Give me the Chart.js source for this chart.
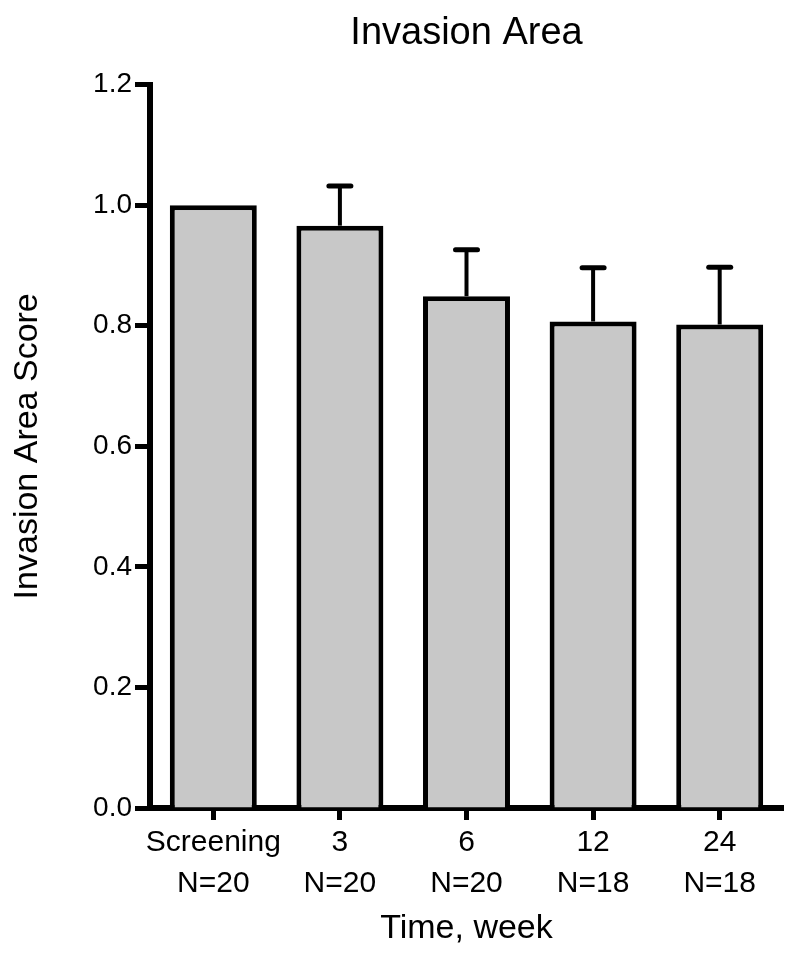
<!DOCTYPE html>
<html>
<head>
<meta charset="utf-8">
<script src="https://cdn.jsdelivr.net/npm/chart.js@4"></script>
<style>
  html, body { margin: 0; padding: 0; background: #fff; }
</style>
</head>
<body>
<canvas id="invChart" width="795" height="963"></canvas>
<script>
const weeks = ["Screening", "3", "6", "12", "24"];
const counts = ["N=20", "N=20", "N=20", "N=18", "N=18"];
const scores = [1.0, 0.966, 0.849, 0.807, 0.802];
const sem = [0, 0.066, 0.077, 0.089, 0.095];
const yTicks = [0, 0.2, 0.4, 0.6, 0.8, 1.0, 1.2];

const FONT = "'Liberation Sans', Arial, Helvetica, sans-serif";

// draws the upper error bar (SEM) on top of each bar
const errorBars = {
  id: "errorBars",
  afterDatasetsDraw(chart) {
    const ctx = chart.ctx;
    const y = chart.scales.y;
    const meta = chart.getDatasetMeta(0);
    ctx.save();
    ctx.strokeStyle = "#000";
    meta.data.forEach((bar, i) => {
      if (!sem[i]) return;
      const yTop = y.getPixelForValue(scores[i] + sem[i]);
      const yBar = y.getPixelForValue(scores[i]);
      ctx.lineWidth = 4;
      ctx.lineCap = "butt";
      ctx.beginPath();
      ctx.moveTo(bar.x, yBar);
      ctx.lineTo(bar.x, yTop);
      ctx.stroke();
      ctx.lineWidth = 5;
      ctx.lineCap = "round";
      ctx.beginPath();
      ctx.moveTo(bar.x - 11, yTop);
      ctx.lineTo(bar.x + 11, yTop);
      ctx.stroke();
    });
    ctx.restore();
  }
};

const ctx = document.getElementById("invChart").getContext("2d");
new Chart(ctx, {
  type: "bar",
  data: {
    labels: weeks.map((w, i) => [w, counts[i]]),
    datasets: [{
      data: scores,
      backgroundColor: "#c8c8c8",
      borderColor: "#000",
      borderWidth: 5,
      borderSkipped: "bottom",
      barPercentage: 0.687,
      categoryPercentage: 1.0
    }]
  },
  options: {
    responsive: false,
    animation: false,
    devicePixelRatio: 1,
    layout: { padding: { top: 0, right: 12, left: 0, bottom: 0 } },
    plugins: {
      legend: { display: false },
      tooltip: { enabled: false },
      title: {
        display: true,
        text: "Invasion Area",
        fullSize: false,
        color: "#000",
        font: { family: FONT, size: 38, weight: "normal" },
        padding: { top: 11, bottom: 28 }
      }
    },
    scales: {
      x: {
        afterFit: s => { s.height = 155; },
        border: { display: true, width: 6, color: "#000" },
        grid: {
          offset: false,
          drawOnChartArea: false,
          tickLength: 12,
          tickWidth: 5,
          tickColor: "#000"
        },
        ticks: {
          color: "#000",
          padding: 2,
          autoSkip: false,
          maxRotation: 0,
          font: { family: FONT, size: 30, lineHeight: 1.37 }
        },
        title: {
          display: true,
          text: "Time, week",
          color: "#000",
          font: { family: FONT, size: 34, weight: "normal" },
          padding: { top: 4, bottom: 14 }
        }
      },
      y: {
        min: 0,
        max: 1.2,
        afterFit: s => { s.width = 150; },
        afterBuildTicks: s => { s.ticks = yTicks.map(v => ({ value: v })); },
        border: { display: true, width: 6, color: "#000" },
        grid: {
          drawOnChartArea: false,
          tickLength: 15,
          tickWidth: 5,
          tickColor: "#000"
        },
        ticks: {
          color: "#000",
          padding: 3,
          font: { family: FONT, size: 28 },
          callback: v => Number(v).toFixed(1)
        },
        title: {
          display: true,
          text: "Invasion Area Score",
          color: "#000",
          font: { family: FONT, size: 34, weight: "normal" },
          padding: { top: 7, bottom: 0 }
        }
      }
    }
  },
  plugins: [errorBars]
});
</script>
</body>
</html>
